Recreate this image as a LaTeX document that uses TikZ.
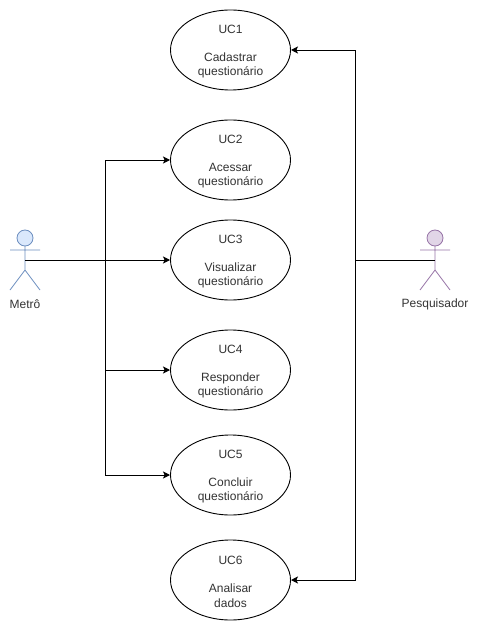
\documentclass[tikz,border=0pt]{standalone}
\usepackage{fontspec}
\setmainfont{Liberation Sans}
\usetikzlibrary{shapes.geometric,arrows.meta}
\tikzset{
  uc/.style={draw=black,line width=0.9pt,fill=white,ellipse,minimum width=120pt,minimum height=80pt,inner sep=0pt,outer sep=0pt},
  uctext/.style={align=center,font=\fontsize{12}{14.3}\selectfont,text=black!80},
  link/.style={draw=black,line width=0.9pt},
  arrowlink/.style={link,-{Stealth[length=7pt,width=7pt,inset=1.6pt]},shorten >=0.5pt},
  actorblue/.style={draw=blue1,line width=0.8pt},
  actorpurple/.style={draw=purple1,line width=0.8pt},
  actorlabel/.style={font=\fontsize{12}{14}\selectfont,text=black!80,inner sep=0pt},
}
\definecolor{blue1}{HTML}{6C8EBF}
\definecolor{bluefill}{HTML}{DAE8FC}
\definecolor{purple1}{HTML}{9673A6}
\definecolor{purplefill}{HTML}{E1D5E7}
\begin{document}
\begin{tikzpicture}[x=1pt,y=-1pt]
\useasboundingbox (0,0) rectangle (479,631);
% junctions and actor anchors
\coordinate (metro) at (25,260);
\coordinate (pesq) at (435,260);
\coordinate (jl) at (105,260);
\coordinate (jr) at (355,260);
% connectors
\node[uc] (uc1) at (230.5,50) {};
\node[uc] (uc2) at (230.5,160) {};
\node[uc] (uc3) at (230.5,260) {};
\node[uc] (uc4) at (230.5,370) {};
\node[uc] (uc5) at (230.5,475) {};
\node[uc] (uc6) at (230.5,580) {};
\foreach \n/\a/\b/\c in {uc1/UC1/Cadastrar/questionário,uc2/UC2/Acessar/questionário,uc3/UC3/Visualizar/questionário,uc4/UC4/Responder/questionário,uc5/UC5/Concluir/questionário,uc6/UC6/Analisar/dados}{
  \node[uctext,yshift=-1.6pt] at (\n) {\a\\[0pt]\mbox{}\\\b\\\c};
}
\draw[actorblue,fill=bluefill] (25,238) circle (8);
\draw[actorblue] (25,246) -- (25,270) (10,250) -- (40,250) (25,270) -- (10,290) (25,270) -- (40,290);
\draw[actorpurple,fill=purplefill] (435,238) circle (8);
\draw[actorpurple] (435,246) -- (435,270) (420,250) -- (450,250) (435,270) -- (420,290) (435,270) -- (450,290);
\node[actorlabel] (metrolabel) at (25,304) {Metrô};
\node[actorlabel] (pesqlabel) at (435,304) {Pesquisador};
\draw[arrowlink] (metro) -- (uc3.west);
\draw[arrowlink] (jl) |- (uc2.west);
\draw[arrowlink] (jl) |- (uc4.west);
\draw[arrowlink] (jl) |- (uc5.west);
\draw[link] (pesq) -- (jr);
\draw[arrowlink] (jr) |- (uc1.east);
\draw[arrowlink] (jr) |- (uc6.east);
\end{tikzpicture}
\end{document}
